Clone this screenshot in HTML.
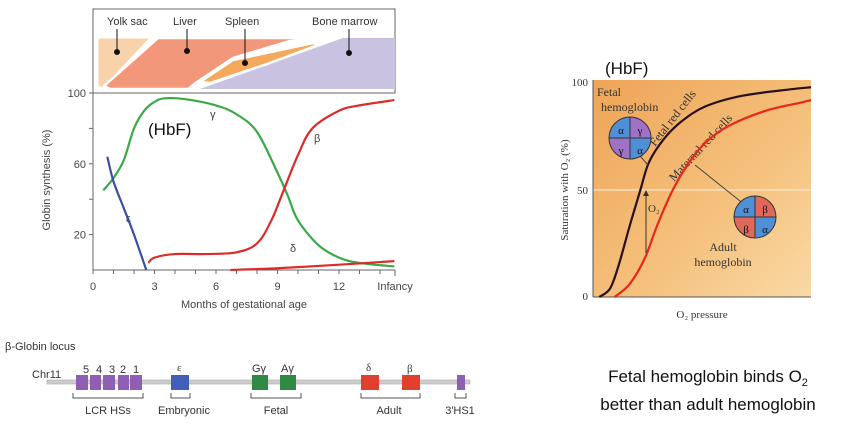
<!DOCTYPE html>
<html><head><meta charset="utf-8"><style>
body{margin:0;background:#fff;width:853px;height:439px;overflow:hidden;font-family:"Liberation Sans",sans-serif}
svg{position:absolute;left:0;top:0}
</style></head><body>
<svg width="853" height="439">
<defs>
<linearGradient id="og" x1="0" y1="0" x2="1" y2="1">
<stop offset="0" stop-color="#eea457"/><stop offset="0.6" stop-color="#f5c27e"/><stop offset="1" stop-color="#f9d9a6"/></linearGradient>
</defs>
<!-- left chart -->
<g font-size="10" fill="#444">
<rect x="93" y="9" width="302" height="84" fill="#fff" stroke="#666"/>
<polygon points="200,89 343,38 395,38 395,89" fill="#c9c2e0"/>
<polygon points="98,38 150,38 103,88 98,86" fill="#f8d2aa" stroke="#fff" stroke-width="1"/>
<polygon points="158,38 332,38 290,41 233,58 197,82 188,89 110,89 104,86" fill="#f2977a" stroke="#fff" stroke-width="2.5" stroke-linejoin="round"/>
<polygon points="200,82 233,60 313,43 318,45 267,64 210,83" fill="#f4a95c" stroke="#fff" stroke-width="2.5" stroke-linejoin="round"/>
<g fill="#111" stroke="#111">
<line x1="117" y1="29" x2="117" y2="52"/><circle cx="117" cy="52" r="2.5"/>
<line x1="187" y1="29" x2="187" y2="51"/><circle cx="187" cy="51" r="2.5"/>
<line x1="245" y1="29" x2="245" y2="63"/><circle cx="245" cy="63" r="2.5"/>
<line x1="349" y1="29" x2="349" y2="53"/><circle cx="349" cy="53" r="2.5"/>
</g>
<text x="107" y="25" font-size="11" fill="#333">Yolk sac</text>
<text x="173" y="25" font-size="11" fill="#333">Liver</text>
<text x="225" y="25" font-size="11" fill="#333">Spleen</text>
<text x="312" y="25" font-size="11" fill="#333">Bone marrow</text>
<rect x="93" y="93" width="302" height="177" fill="#fff" stroke="none"/>
<line x1="93" y1="93" x2="93" y2="270" stroke="#666"/>
<line x1="93" y1="93" x2="395" y2="93" stroke="#666"/>
<line x1="93" y1="270" x2="395" y2="270" stroke="#666"/>
<g id="lticks"></g>
<text x="50" y="180" font-size="11" transform="rotate(-90 50 180)" text-anchor="middle" fill="#444">Globin synthesis (%)</text>
<text x="244" y="308" font-size="11" text-anchor="middle" fill="#444">Months of gestational age</text>
<g id="lcurves" fill="none" stroke-width="2.2"></g>
<text x="210" y="118" font-size="11" fill="#444">γ</text>
<text x="314" y="142" font-size="11" fill="#444">β</text>
<text x="126" y="222" font-size="11" fill="#444">ε</text>
<text x="290" y="252" font-size="11" fill="#444">δ</text>
<text x="148" y="135" font-size="17" fill="#111">(HbF)</text>
</g>
<!-- right chart -->
<g>
<rect x="593" y="80" width="218" height="217" fill="url(#og)"/>
<line x1="593" y1="190" x2="811" y2="190" stroke="#fbe6c8" stroke-width="1.2"/>
<line x1="593" y1="80" x2="593" y2="297" stroke="#555"/>
<line x1="593" y1="297" x2="811" y2="297" stroke="#555"/>
<g font-family="Liberation Serif,serif" font-size="11" fill="#333">
<text x="588" y="86" text-anchor="end">100</text>
<text x="588" y="194" text-anchor="end">50</text>
<text x="588" y="300" text-anchor="end">0</text>
<text x="568" y="190" transform="rotate(-90 568 190)" text-anchor="middle">Saturation with O₂ (%)</text>
<text x="702" y="318" text-anchor="middle">O₂ pressure</text>
<text x="597" y="96" font-size="12">Fetal</text>
<text x="601" y="111" font-size="12">hemoglobin</text>
<text x="723" y="251" text-anchor="middle" font-size="12">Adult</text>
<text x="723" y="266" text-anchor="middle" font-size="12">hemoglobin</text>
<text x="648" y="212">O₂</text>
<text x="655" y="147" font-size="12" transform="rotate(-52 655 147)">Fetal red cells</text>
<text x="674" y="182" font-size="12" transform="rotate(-47 674 182)">Maternal red cells</text>
</g>
<g id="rcurves" fill="none" stroke-width="2.2"></g>
<line x1="646" y1="253" x2="646" y2="192" stroke="#333"/>
<polygon points="646,190 643,196 649,196" fill="#333"/>
<line x1="648" y1="165" x2="633" y2="148" stroke="#444"/>
<line x1="695" y1="165" x2="745" y2="205" stroke="#444"/>
<g font-family="Liberation Serif,serif" font-size="11" text-anchor="middle" fill="#111">
<path d="M630,138 L630,117 A21,21 0 0 0 609,138 Z" fill="#4f8fd6" stroke="#333"/>
<path d="M630,138 L630,117 A21,21 0 0 1 651,138 Z" fill="#9f72c4" stroke="#333"/>
<path d="M630,138 L609,138 A21,21 0 0 0 630,159 Z" fill="#9f72c4" stroke="#333"/>
<path d="M630,138 L651,138 A21,21 0 0 1 630,159 Z" fill="#4f8fd6" stroke="#333"/>
<text x="621" y="134">α</text><text x="640" y="134">γ</text><text x="621" y="154">γ</text><text x="640" y="154">α</text>
</g>
<g font-family="Liberation Serif,serif" font-size="11" text-anchor="middle" fill="#111">
<path d="M755,217 L755,196 A21,21 0 0 0 734,217 Z" fill="#4f8fd6" stroke="#333"/>
<path d="M755,217 L755,196 A21,21 0 0 1 776,217 Z" fill="#e0685a" stroke="#333"/>
<path d="M755,217 L734,217 A21,21 0 0 0 755,238 Z" fill="#e0685a" stroke="#333"/>
<path d="M755,217 L776,217 A21,21 0 0 1 755,238 Z" fill="#4f8fd6" stroke="#333"/>
<text x="746" y="213">α</text><text x="765" y="213">β</text><text x="746" y="233">β</text><text x="765" y="233">α</text>
</g>
<text x="605" y="74" font-size="17" fill="#111">(HbF)</text>
</g>
<!-- locus -->
<g font-size="11" fill="#333">
<text x="5" y="350">β-Globin locus</text>
<text x="32" y="378">Chr11</text>
<rect x="47" y="380" width="423" height="4" fill="#ccc" stroke="#aaa" stroke-width="0.6"/>
<g id="genes"></g>
<text x="83" y="373">5</text><text x="96" y="373">4</text><text x="109" y="373">3</text><text x="120" y="373">2</text><text x="133" y="373">1</text>
<text x="177" y="371" font-family="Liberation Serif,serif">ε</text>
<text x="252" y="372">Gγ</text><text x="281" y="372">Aγ</text>
<text x="366" y="371" font-family="Liberation Serif,serif">δ</text><text x="407" y="372" font-family="Liberation Serif,serif">β</text>
<g fill="none" stroke="#555">
<path d="M73,393 V398 H143 V393"/><path d="M171,393 V398 H190 V393"/><path d="M251,393 V398 H301 V393"/><path d="M361,393 V398 H420 V393"/><path d="M455,393 V398 H466 V393"/>
</g>
<text x="108" y="414" text-anchor="middle">LCR HSs</text>
<text x="184" y="414" text-anchor="middle">Embryonic</text>
<text x="276" y="414" text-anchor="middle">Fetal</text>
<text x="389" y="414" text-anchor="middle">Adult</text>
<text x="460" y="414" text-anchor="middle">3′HS1</text>
</g>
<text x="708" y="382" font-size="17" text-anchor="middle" fill="#111">Fetal hemoglobin binds O<tspan font-size="11" dy="4">2</tspan></text>
<text x="708" y="410" font-size="17" text-anchor="middle" fill="#111">better than adult hemoglobin</text>
</svg>
<script>
const lxTicks=[0,3,6,9,12];
const lxLabels=["0","3","6","9","12"];
const lyTicks=[20,60,100];
const gammaM=[0.5,1,1.5,2,2.5,3,3.5,4.5,6,7,8,9,9.5,10,11,12,13,14.7];
const gammaV=[45,52,62,80,90,95,97,96.5,93,88,78,55,42,28,14,7,4,2];
const epsM=[0.7,1,1.5,2,2.6];
const epsV=[64,50,35,20,0];
const betaM=[2.7,3,4,5.5,7,8,8.7,9.3,10,10.7,12,13,14.7];
const betaV=[4,7,9,9,10,15,28,45,65,80,90,93,96];
const deltaM=[6.7,9,12,14.7];
const deltaV=[0,1,3,5];
const fetalP=[2,7,11,16,21,25,32,40,51,68,90,100];
const fetalS=[0,4,15,33,50,63,74,82,89,94,97,98];
const maternalP=[9,16,23,29,36,43,51,62,79,96,100];
const maternalS=[0,6,18,34,50,62,72,80,87,91,92];
const NS="http://www.w3.org/2000/svg";
const lx=m=>93+m*20.5, ly=v=>270-v*1.77;
const rx=p=>595+p*2.16, ry=s=>297-s*2.14;
function smooth(pts){let d="M"+pts[0][0]+","+pts[0][1];for(let i=0;i<pts.length-1;i++){const p0=pts[i-1]||pts[i],p1=pts[i],p2=pts[i+1],p3=pts[i+2]||p2;d+=" C"+(p1[0]+(p2[0]-p0[0])/6)+","+(p1[1]+(p2[1]-p0[1])/6)+" "+(p2[0]-(p3[0]-p1[0])/6)+","+(p2[1]-(p3[1]-p1[1])/6)+" "+p2[0]+","+p2[1];}return d;}
function curve(g,xs,ys,fx,fy,col,name){const p=document.createElementNS(NS,"path");p.setAttribute("d",smooth(xs.map((x,i)=>[fx(x),fy(ys[i])])));p.setAttribute("stroke",col);


g.appendChild(p);}
const lc=document.getElementById("lcurves");
curve(lc,gammaM,gammaV,lx,ly,"#3aaa48","gamma-curve");
curve(lc,epsM,epsV,lx,ly,"#3b4fa0","epsilon-curve");
curve(lc,betaM,betaV,lx,ly,"#dd2b2b","beta-curve");
curve(lc,deltaM,deltaV,lx,ly,"#dd2b2b","delta-curve");
const rc=document.getElementById("rcurves");
curve(rc,fetalP,fetalS,rx,ry,"#2a0f1e","fetal-curve");
curve(rc,maternalP,maternalS,rx,ry,"#e8281c","maternal-curve");
const tk=document.getElementById("lticks");
function add(tag,attrs,txt){const e=document.createElementNS(NS,tag);for(const k in attrs)e.setAttribute(k,attrs[k]);if(txt)e.textContent=txt;tk.appendChild(e);return e;}
for(let m=0;m<=14;m++)add("line",{x1:lx(m),x2:lx(m),y1:270,y2:274,stroke:"#666"});
add("line",{x1:395,x2:395,y1:270,y2:276,stroke:"#666"});
lxTicks.forEach((t,i)=>{const e=add("text",{x:lx(t),y:290,"text-anchor":"middle","font-size":11,fill:"#444"},lxLabels[i]);

});
add("text",{x:395,y:290,"text-anchor":"middle","font-size":11,fill:"#444"},"Infancy");
[20,40,60,80,100].forEach(v=>add("line",{x1:89,x2:93,y1:ly(v),y2:ly(v),stroke:"#666"}));
lyTicks.forEach(v=>{const e=add("text",{x:86,y:ly(v)+4,"text-anchor":"end","font-size":11,fill:"#444"},String(v));

});
const genes=document.getElementById("genes");
[[76,88,"#8e5fb5"],[90,101,"#8e5fb5"],[103,115,"#8e5fb5"],[118,129,"#8e5fb5"],[130,142,"#8e5fb5"],[171,189,"#3f5fb8"],[252,268,"#2f8a45"],[280,296,"#2f8a45"],[361,379,"#e0402c"],[402,420,"#e0402c"],[457,465,"#8e5fb5"]].forEach(g=>{const r=document.createElementNS(NS,"rect");r.setAttribute("x",g[0]);r.setAttribute("y",375);r.setAttribute("width",g[1]-g[0]);r.setAttribute("height",15);r.setAttribute("fill",g[2]);


genes.appendChild(r);});
</script>
</body></html>
